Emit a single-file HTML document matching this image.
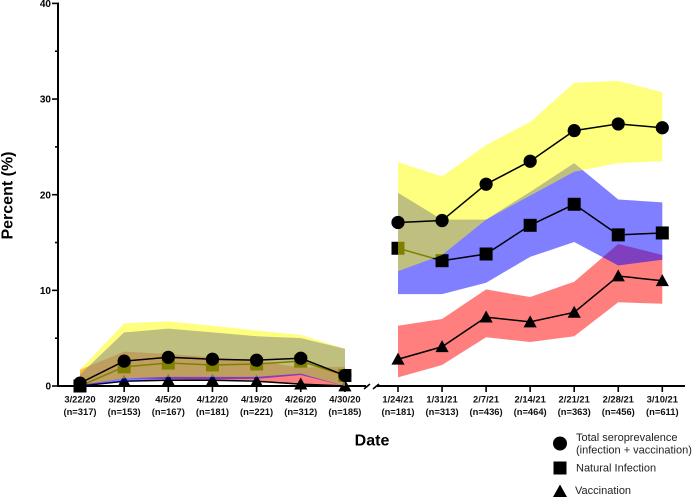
<!DOCTYPE html>
<html>
<head>
<meta charset="utf-8">
<style>
html,body{margin:0;padding:0;background:#fff;width:692px;height:497px;overflow:hidden}
svg{display:block;font-family:"Liberation Sans",Arial,sans-serif}
</style>
</head>
<body>
<svg id="chart" xmlns="http://www.w3.org/2000/svg" width="692" height="497" viewBox="0 0 692 497">
  <text transform="translate(12.5 195.5) rotate(-90)" text-anchor="middle" font-size="16" font-weight="bold">Percent (%)</text>
  <text x="372" y="445.5" text-anchor="middle" font-size="16" font-weight="bold">Date</text>
  <g font-size="11" fill="#222">
    <circle cx="560" cy="443.5" r="7" fill="#000"/>
    <text x="576" y="441">Total seroprevalence</text>
    <text x="576" y="453.5">(infection + vaccination)</text>
    <rect x="553.5" y="461.5" width="13" height="13" fill="#000"/>
    <text x="576" y="471.5">Natural Infection</text>
    <polygon points="560,484.5 567,497 553,497" fill="#000"/>
    <text x="575" y="494">Vaccination</text>
  </g>
</svg>
<script>
var leftDates = ['3/22/20','3/29/20','4/5/20','4/12/20','4/19/20','4/26/20','4/30/20'];
var leftCounts = ['(n=317)','(n=153)','(n=167)','(n=181)','(n=221)','(n=312)','(n=185)'];
var rightDates = ['1/24/21','1/31/21','2/7/21','2/14/21','2/21/21','2/28/21','3/10/21'];
var rightCounts = ['(n=181)','(n=313)','(n=436)','(n=464)','(n=363)','(n=456)','(n=611)'];
var yTicks = [0,10,20,30,40];
var yMinorTicks = [5,15,25,35];

var totalLeft = [0.3,2.6,3.0,2.8,2.7,2.9,1.1];
var totalLeftUpper = [1.7,6.55,6.75,6.3,5.8,5.35,3.9];
var totalLeftLower = [0.1,0.8,0.95,0.95,0.95,1.3,0];
var totalRight = [17.1,17.3,21.1,23.5,26.7,27.4,27.0];
var totalRightUpper = [23.4,21.9,25.2,27.6,31.7,31.9,30.7];
var totalRightLower = [12.0,13.7,17.4,19.9,22.4,23.3,23.5];

var naturalLeft = [0.0,2.0,2.4,2.2,2.3,2.6,1.1];
var naturalLeftUpper = [1.2,5.6,6.0,5.6,5.2,5.0,3.9];
var naturalLeftLower = [0,0.5,0.7,0.7,0.75,1.15,0];
var naturalRight = [14.4,13.1,13.8,16.8,19.0,15.8,16.0];
var naturalRightUpper = [20.2,17.4,17.4,20.3,23.3,19.5,19.2];
var naturalRightLower = [9.6,9.6,10.8,13.5,15.05,12.6,13.2];

var vaccineLeft = [0.0,0.5,0.6,0.6,0.5,0.2,0.0];
var vaccineLeftUpper = [1.7,3.6,3.35,3.0,2.6,1.95,2.0];
var vaccineLeftLower = [0,0.8,0.7,0.65,0.6,0.1,0];
var vaccineRight = [2.8,4.1,7.2,6.7,7.7,11.5,11.0];
var vaccineRightUpper = [6.3,7.0,10.1,9.3,10.9,14.85,13.7];
var vaccineRightLower = [0.9,2.2,5.1,4.6,5.2,8.75,8.6];

var svg = document.getElementById('chart');
var NS = 'http://www.w3.org/2000/svg';
function y(v){ return 386 - v * 9.565; }
function xL(i){ return 80 + i * 44.15; }
function xR(i){ return 398 + i * 44.05; }
function make(tag, attrs){
  var el = document.createElementNS(NS, tag);
  for (var k in attrs) el.setAttribute(k, attrs[k]);
  svg.appendChild(el);
  return el;
}
function axisLine(x1,y1,x2,y2,w,name){
  var el = make('line',{x1:x1,y1:y1,x2:x2,y2:y2,stroke:'#000','stroke-width':w});
  
  
}

axisLine(58,2.5,58,387,2,'y-axis-line');
axisLine(57,386,366,386,2,'x-axis-left-segment');
axisLine(377,386,685,386,2,'x-axis-right-segment');
axisLine(364,389,370,384,1.6,'axis-break-mark-left');
axisLine(373,389,379,384,1.6,'axis-break-mark-right');

yTicks.forEach(function(t){
  axisLine(52,y(t),58,y(t),1.6,'y-tick');
  var lab = make('text',{x:51,y:y(t)+3.6,'text-anchor':'end','font-size':10,'font-weight':'bold'});
  lab.textContent = t;
  
  
});
yMinorTicks.forEach(function(t){
  axisLine(55,y(t),58,y(t),1.6,'y-minor-tick');
});

function xLabels(dates, counts, xf){
  dates.forEach(function(d,i){
    axisLine(xf(i),386,xf(i),392,1.6,'x-tick');
    var a = make('text',{x:xf(i),y:402.5,'text-anchor':'middle','font-size':9.4,'font-weight':'bold',fill:'#111'});
    a.textContent = d;
    
    
    var b = make('text',{x:xf(i),y:415,'text-anchor':'middle','font-size':9.4,'font-weight':'bold',fill:'#111'});
    b.textContent = counts[i];
    
    
  });
}
xLabels(leftDates,leftCounts,xL);
xLabels(rightDates,rightCounts,xR);

function band(upper, lower, xf, color, name){
  var pts = [];
  upper.forEach(function(v,i){ pts.push(xf(i)+','+y(v)); });
  for (var i = lower.length-1; i >= 0; i--) pts.push(xf(i)+','+y(lower[i]));
  var el = make('polygon',{points:pts.join(' '),fill:color,'fill-opacity':0.5});
  
  
}
function series(vals, xf, kind, name){
  var pts = vals.map(function(v,i){ return xf(i)+','+y(v); }).join(' ');
  var line = make('polyline',{points:pts,fill:'none',stroke:'#000','stroke-width':1.5});
  
  
  vals.forEach(function(v,i){
    var cx = xf(i), cy = y(v), m;
    if (kind === 'circle') m = make('circle',{cx:cx,cy:cy,r:6.6,fill:'#000'});
    else if (kind === 'square') m = make('rect',{x:cx-6.5,y:cy-6.5,width:13,height:13,fill:'#000'});
    else m = make('polygon',{points:cx+','+(cy-6.6)+' '+(cx+6.6)+','+(cy+5.4)+' '+(cx-6.6)+','+(cy+5.4),fill:'#000'});
    
    
  });
}

band(vaccineLeftUpper,vaccineLeftLower,xL,'#ff0000','vaccination-ci-band-2020');
band(vaccineRightUpper,vaccineRightLower,xR,'#ff0000','vaccination-ci-band-2021');
series(vaccineLeft,xL,'triangle','vaccination-2020');
series(vaccineRight,xR,'triangle','vaccination-2021');

band(naturalLeftUpper,naturalLeftLower,xL,'#0000ff','natural-infection-ci-band-2020');
band(naturalRightUpper,naturalRightLower,xR,'#0000ff','natural-infection-ci-band-2021');
series(naturalLeft,xL,'square','natural-infection-2020');
series(naturalRight,xR,'square','natural-infection-2021');

band(totalLeftUpper,totalLeftLower,xL,'#ffff00','total-ci-band-2020');
band(totalRightUpper,totalRightLower,xR,'#ffff00','total-ci-band-2021');
series(totalLeft,xL,'circle','total-seroprevalence-2020');
series(totalRight,xR,'circle','total-seroprevalence-2021');
</script>
</body>
</html>
